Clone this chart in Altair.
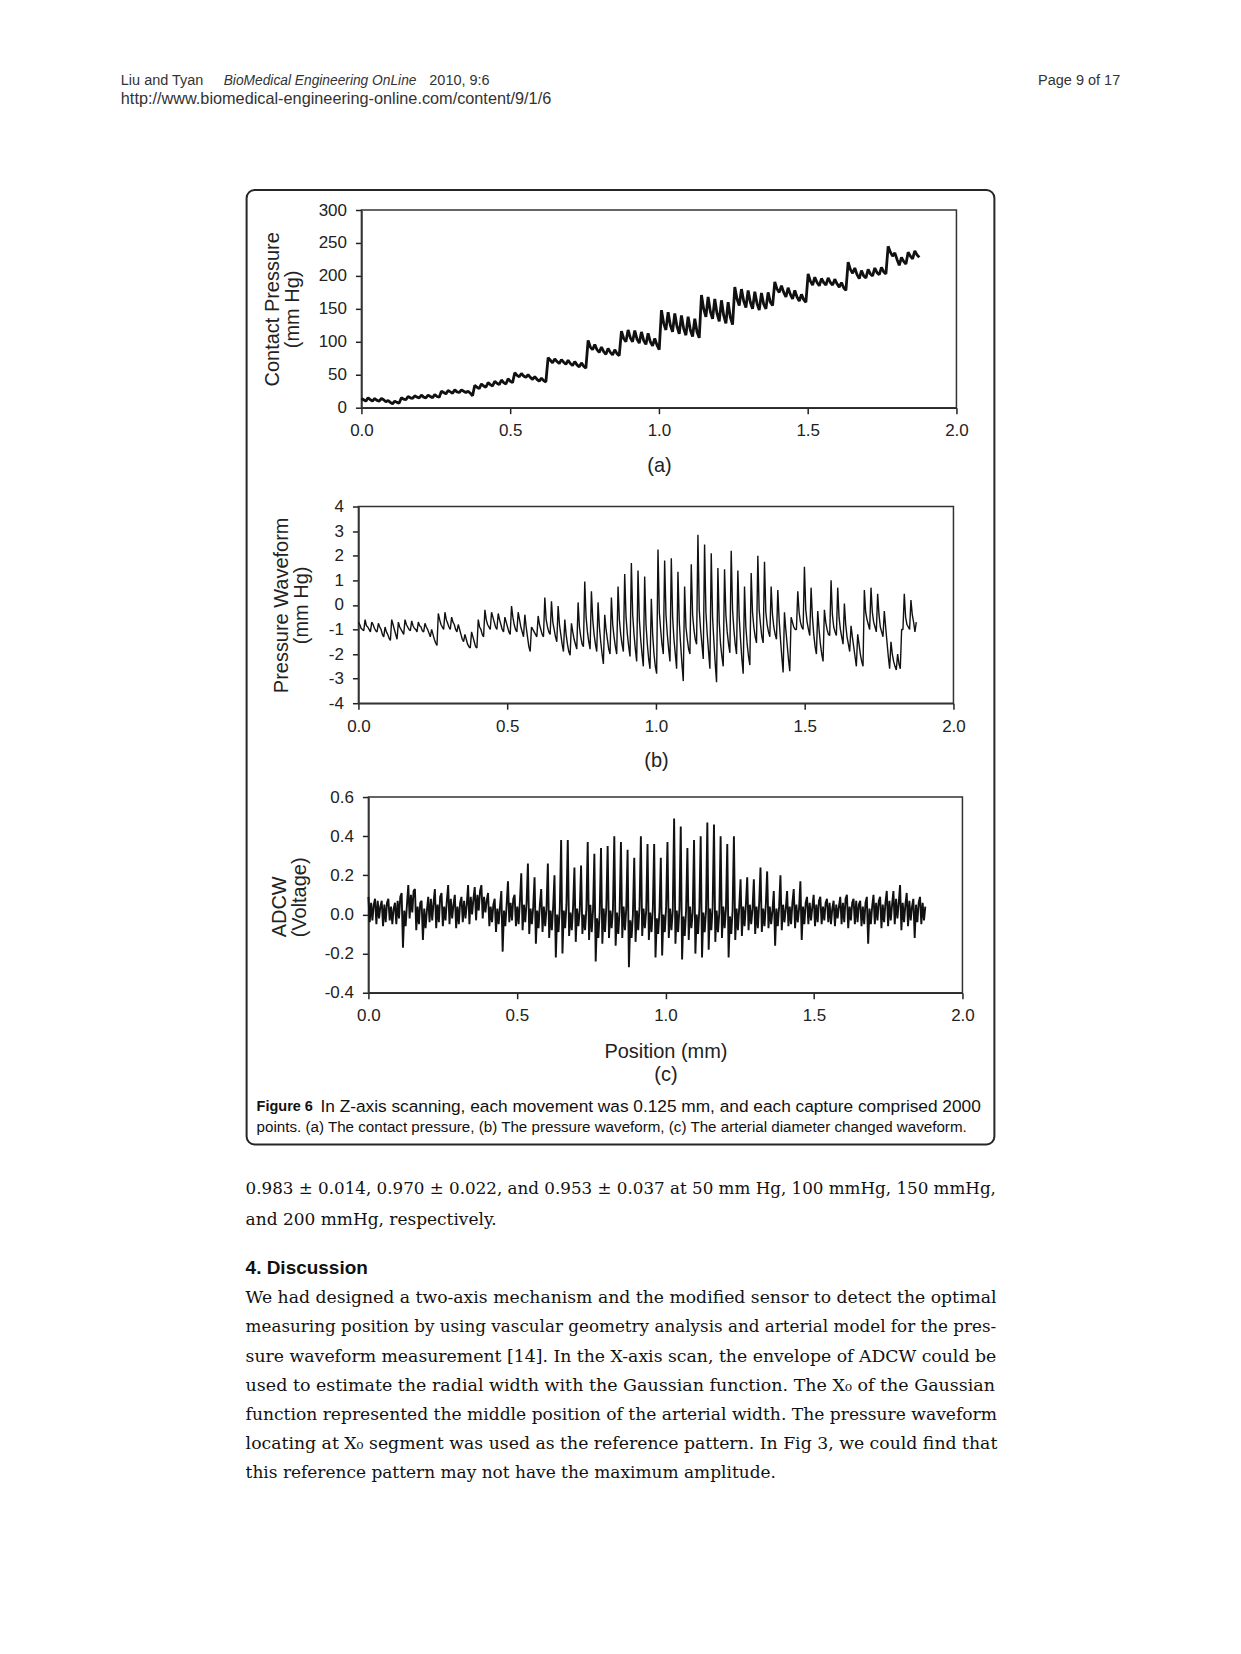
import altair as alt
import pandas as pd
import numpy as np

# ---------------- data ----------------
scan_end = 1.875          # 15 movements x 0.125 mm
x_ticks = [0.0, 0.5, 1.0, 1.5, 2.0]
a_yticks = [0, 50, 100, 150, 200, 250, 300]
b_yticks = [-4, -3, -2, -1, 0, 1, 2, 3, 4]
c_yticks = [-0.4, -0.2, 0.0, 0.2, 0.4, 0.6]

# (a) contact pressure, 3 readings per heart beat
a_contact = [
    14, 12, 10, 15, 12, 10, 14, 11, 10, 14, 12, 9, 11, 8, 6, 10, 8, 7,
    15, 13, 12, 17, 15, 14, 18, 16, 15, 19, 16, 15, 19, 17, 15, 20, 17, 16,
    25, 23, 21, 26, 24, 22, 27, 24, 23, 27, 25, 23, 25, 22, 18,
    34, 31, 29, 36, 33, 31, 38, 35, 33, 40, 37, 35, 42, 38, 36, 44, 40, 38,
    53, 49, 47, 52, 48, 46, 50, 46, 43, 47, 43, 40, 45, 41, 39,
    76, 72, 68, 74, 70, 67, 73, 69, 66, 72, 67, 64, 70, 65, 62, 68, 63, 60,
    102, 92, 88, 96, 88, 84, 92, 85, 81, 90, 84, 80, 88, 82, 79,
    116, 105, 100, 118, 106, 100, 117, 104, 98, 115, 102, 96, 113, 100, 94, 105, 95, 88,
    148, 128, 118, 145, 125, 115, 143, 123, 112, 140, 120, 110, 138, 118, 108, 135, 115, 106,
    171, 150, 138, 168, 146, 135, 165, 143, 131, 163, 140, 128, 160, 137, 126,
    183, 165, 155, 180, 162, 152, 178, 160, 150, 176, 158, 148, 174, 157, 150, 175, 160, 155,
    191, 180, 175, 185, 175, 168, 182, 172, 165, 178, 168, 162, 172, 164, 160,
    203, 192, 186, 198, 190, 185, 196, 190, 186, 197, 190, 186, 195, 188, 183, 190, 182, 178,
    221, 210, 204, 212, 202, 196, 208, 200, 197, 210, 203, 200, 212, 205, 202, 213, 206, 203,
    245, 236, 230, 235, 225, 216, 228, 222, 218, 236, 230, 226, 238, 232, 228,
]

# (b) pressure waveform, 5 readings per beat (peak ... trough)
b_wave = [
    -0.7, -0.8, -0.95, -1.0, -1.05, -0.6, -0.85, -0.9, -1.0, -1.1,
    -0.7, -0.8, -0.95, -1.05, -1.1, -0.75, -0.9, -1.0, -1.2, -1.3,
    -0.9, -1.1, -1.2, -1.35, -1.45, -0.6, -0.8, -1.0, -1.2, -1.4,
    -0.7, -0.9, -1.0, -1.1, -1.2, -0.6, -0.8, -0.9, -1.0, -1.05,
    -0.65, -0.85, -0.95, -1.0, -1.1, -0.7, -0.85, -0.9, -1.05, -1.1,
    -0.75, -0.9, -1.0, -1.15, -1.3, -1.0, -1.2, -1.4, -1.55, -1.65,
    -0.35, -0.6, -0.8, -0.9, -1.0, -0.3, -0.6, -0.75, -0.9, -1.0,
    -0.5, -0.7, -0.8, -1.0, -1.1, -0.8, -1.0, -1.2, -1.4, -1.5,
    -1.2, -1.4, -1.6, -1.7, -1.75, -1.1, -1.3, -1.5, -1.7, -1.75,
    -0.6, -0.9, -1.0, -1.2, -1.3, -0.2, -0.6, -0.8, -0.9, -1.0,
    -0.3, -0.5, -0.7, -0.9, -1.0, -0.35, -0.6, -0.8, -1.0, -1.1,
    -0.5, -0.7, -0.9, -1.1, -1.2, -0.05, -0.5, -0.8, -1.0, -1.1,
    -0.3, -0.6, -0.9, -1.1, -1.3, -0.4, -0.9, -1.3, -1.7, -1.9,
    -0.9, -1.0, -1.1, -1.2, -1.3, -0.45, -0.8, -1.0, -1.2, -1.3,
    0.3, -0.6, -0.9, -1.1, -1.2, 0.15, -0.7, -1.0, -1.3, -1.5,
    -0.05, -0.8, -1.2, -1.6, -1.9, -0.6, -1.2, -1.6, -1.9, -2.05,
    -0.75, -1.1, -1.4, -1.6, -1.8, 0.1, -0.9, -1.3, -1.6, -1.7,
    0.95, -0.5, -1.1, -1.5, -1.8, 0.55, -0.6, -1.2, -1.6, -1.9,
    0.1, -0.9, -1.5, -2.0, -2.4, -0.4, -1.0, -1.4, -1.8, -2.0,
    0.3, -0.8, -1.3, -1.7, -2.0, 0.75, -0.6, -1.2, -1.6, -1.9,
    1.25, -0.5, -1.2, -1.7, -2.1, 1.7, -0.4, -1.2, -1.8, -2.3,
    1.4, -0.6, -1.4, -2.0, -2.5, 1.15, -0.8, -1.6, -2.2, -2.6,
    0.25, -1.2, -2.0, -2.5, -2.8, 2.25, -0.3, -1.0, -1.6, -2.0,
    1.8, -0.4, -1.2, -1.8, -2.3, 1.9, -0.5, -1.4, -2.0, -2.6,
    1.35, -0.7, -1.6, -2.4, -3.1, 0.75, -0.9, -1.4, -1.8, -2.0,
    1.65, -0.4, -1.0, -1.4, -1.6, 2.85, -0.2, -1.0, -1.6, -2.2,
    2.45, -0.3, -1.2, -1.9, -2.6, 2.1, -0.5, -1.5, -2.4, -3.15,
    1.5, -0.7, -1.6, -2.1, -2.5, 1.45, -0.4, -1.1, -1.6, -1.95,
    2.2, -0.2, -1.0, -1.6, -2.0, 1.4, -0.5, -1.4, -2.2, -2.8,
    0.75, -0.9, -1.6, -2.1, -2.45, 1.3, -0.3, -0.9, -1.3, -1.55,
    2.0, -0.2, -0.8, -1.3, -1.55, 1.75, -0.3, -0.8, -1.1, -1.3,
    0.75, -0.4, -0.9, -1.2, -1.4, 0.6, -0.6, -1.4, -2.1, -2.75,
    -0.3, -1.0, -1.6, -2.2, -2.7, -0.5, -0.7, -0.9, -1.0, -1.0,
    0.55, -0.3, -0.7, -0.9, -1.0, 1.55, -0.2, -0.7, -1.0, -1.25,
    0.7, -0.5, -1.2, -1.7, -2.0, -0.25, -1.0, -1.6, -2.0, -2.3,
    -0.2, -0.7, -1.0, -1.2, -1.25, 1.0, -0.4, -0.9, -1.1, -1.25,
    0.7, -0.5, -1.0, -1.3, -1.6, 0.05, -0.8, -1.3, -1.6, -1.9,
    -0.85, -1.3, -1.7, -2.1, -2.5, -1.2, -1.6, -2.0, -2.3, -2.5,
    0.6, -0.3, -0.6, -0.8, -1.0, 0.7, -0.3, -0.7, -0.9, -1.1,
    0.45, -0.4, -0.9, -1.1, -1.3, -0.25, -0.9, -1.5, -2.1, -2.6,
    -1.5, -2.0, -2.3, -2.5, -2.65, -2.0, -2.4, -2.6, -1.0, -1.0,
    0.45, -0.5, -0.8, -0.9, -1.0, 0.2, -0.4, -0.7, -1.1, -0.7,
]

# (c) ADCW, 5 readings per beat (spike, dip, noise)
c_adcw = [
    0.09, -0.04, 0.06, -0.03, 0.05, 0.08, -0.05, 0.07, -0.02, 0.04,
    0.07, -0.06, 0.05, -0.04, 0.06, 0.08, -0.03, 0.04, -0.05, 0.03,
    0.06, -0.05, 0.07, -0.02, 0.09, 0.11, -0.17, 0.02, -0.06, 0.05,
    0.15, -0.02, 0.10, 0.01, 0.12, 0.13, -0.08, 0.04, -0.05, 0.06,
    0.07, -0.13, 0.03, -0.07, 0.02, 0.09, -0.04, 0.08, -0.03, 0.06,
    0.13, -0.07, 0.05, -0.04, 0.09, 0.11, -0.06, 0.04, -0.03, 0.07,
    0.15, -0.05, 0.08, -0.02, 0.05, 0.10, -0.07, 0.04, -0.05, 0.06,
    0.09, -0.04, 0.07, -0.02, 0.05, 0.15, -0.05, 0.09, 0.00, 0.08,
    0.14, -0.03, 0.10, 0.02, 0.12, 0.15, -0.02, 0.09, 0.01, 0.07,
    0.11, -0.06, 0.04, -0.04, 0.05, 0.08, -0.09, 0.03, -0.05, 0.04,
    0.12, -0.19, 0.02, -0.06, 0.05, 0.17, -0.04, 0.06, -0.03, 0.08,
    0.10, -0.06, 0.04, -0.05, 0.07, 0.21, -0.08, 0.05, -0.04, 0.06,
    0.26, -0.10, 0.03, -0.05, 0.04, 0.19, -0.15, 0.02, -0.07, 0.05,
    0.13, -0.09, 0.04, -0.06, 0.03, 0.26, -0.12, 0.02, -0.08, 0.04,
    0.20, -0.22, 0.00, -0.09, 0.03, 0.38, -0.20, 0.02, -0.07, 0.05,
    0.38, -0.11, 0.01, -0.08, 0.04, 0.24, -0.14, 0.03, -0.06, 0.02,
    0.25, -0.10, 0.00, -0.08, 0.03, 0.37, -0.13, 0.05, -0.09, 0.02,
    0.31, -0.24, -0.02, -0.12, 0.01, 0.34, -0.15, 0.03, -0.09, 0.04,
    0.35, -0.12, 0.02, -0.07, 0.03, 0.40, -0.16, 0.01, -0.10, 0.02,
    0.37, -0.12, 0.04, -0.08, 0.03, 0.33, -0.27, -0.03, -0.12, 0.00,
    0.29, -0.14, 0.02, -0.08, 0.04, 0.40, -0.11, 0.03, -0.07, 0.02,
    0.36, -0.13, 0.01, -0.09, 0.03, 0.36, -0.22, -0.02, -0.10, 0.02,
    0.29, -0.21, 0.00, -0.09, 0.04, 0.37, -0.12, 0.03, -0.08, 0.02,
    0.49, -0.15, 0.02, -0.09, 0.03, 0.45, -0.23, -0.01, -0.11, 0.02,
    0.34, -0.13, 0.04, -0.07, 0.01, 0.38, -0.20, 0.00, -0.10, 0.03,
    0.40, -0.22, 0.01, -0.09, 0.02, 0.47, -0.18, 0.03, -0.08, 0.04,
    0.46, -0.14, 0.02, -0.09, 0.01, 0.40, -0.12, 0.04, -0.07, 0.03,
    0.36, -0.22, -0.01, -0.10, 0.02, 0.40, -0.13, 0.03, -0.08, 0.04,
    0.18, -0.11, 0.04, -0.06, 0.05, 0.19, -0.08, 0.05, -0.05, 0.03,
    0.18, -0.10, 0.04, -0.07, 0.06, 0.24, -0.09, 0.03, -0.06, 0.05,
    0.22, -0.07, 0.04, -0.05, 0.02, 0.12, -0.16, 0.03, -0.06, 0.04,
    0.20, -0.08, 0.05, -0.04, 0.03, 0.12, -0.06, 0.04, -0.05, 0.06,
    0.13, -0.07, 0.05, -0.04, 0.03, 0.17, -0.13, 0.04, -0.05, 0.06,
    0.09, -0.05, 0.06, -0.03, 0.04, 0.10, -0.06, 0.05, -0.04, 0.07,
    0.09, -0.05, 0.04, -0.03, 0.06, 0.08, -0.04, 0.06, -0.05, 0.03,
    0.07, -0.06, 0.05, -0.02, 0.04, 0.09, -0.05, 0.06, -0.04, 0.08,
    0.10, -0.07, 0.04, -0.03, 0.06, 0.08, -0.05, 0.07, -0.04, 0.05,
    0.07, -0.06, 0.04, -0.05, 0.06, 0.09, -0.15, 0.03, -0.05, 0.04,
    0.10, -0.05, 0.06, -0.03, 0.07, 0.09, -0.07, 0.05, -0.04, 0.06,
    0.12, -0.06, 0.07, -0.03, 0.05, 0.12, -0.05, 0.08, -0.02, 0.06,
    0.15, -0.08, 0.06, -0.04, 0.05, 0.11, -0.06, 0.07, -0.03, 0.04,
    0.08, -0.12, 0.05, -0.04, 0.06, 0.09, -0.05, 0.06, -0.03, 0.04,
]

# ---------------- page text ----------------
header_parts = ["Liu and Tyan", "BioMedical Engineering OnLine", "2010, 9:6"]
header_url = "http://www.biomedical-engineering-online.com/content/9/1/6"
header_page = "Page 9 of 17"
caption_label = "Figure 6"
caption_lines = [
    "In Z-axis scanning, each movement was 0.125 mm, and each capture comprised 2000",
    "points. (a) The contact pressure, (b) The pressure waveform, (c) The arterial diameter changed waveform.",
]
body_top = [
    "0.983 \u00b1 0.014, 0.970 \u00b1 0.022, and 0.953 \u00b1 0.037 at 50 mm Hg, 100 mmHg, 150 mmHg,",
    "and 200 mmHg, respectively.",
]
heading = "4. Discussion"
body_main = [
    "We had designed a two-axis mechanism and the modified sensor to detect the optimal",
    "measuring position by using vascular geometry analysis and arterial model for the pres-",
    "sure waveform measurement [14]. In the X-axis scan, the envelope of ADCW could be",
    "used to estimate the radial width with the Gaussian function. The X\u2080 of the Gaussian",
    "function represented the middle position of the arterial width. The pressure waveform",
    "locating at X\u2080 segment was used as the reference pattern. In Fig 3, we could find that",
    "this reference pattern may not have the maximum amplitude.",
]

# ---------------- layout helpers ----------------
X0, Y0 = 358, 8           # page position of the column origin
ONE = pd.DataFrame({"k": [0]})
SANS = "Liberation Sans"
SERIF = "DejaVu Serif"


def txt(s, px, py, size, font=SANS, weight="normal", style="normal", align="left", color="#222"):
    return alt.Chart(pd.DataFrame({"t": [s]})).mark_text(
        align=align, baseline="middle", font=font, fontSize=size,
        fontWeight=weight, fontStyle=style, color=color,
    ).encode(x=alt.value(px - X0), y=alt.value(py - Y0), text="t:N")


page = alt.Chart(ONE).mark_rect(color="white").encode(
    x=alt.value(8 - X0), x2=alt.value(1233 - X0), y=alt.value(0), y2=alt.value(1638))
box = alt.Chart(ONE).mark_rect(fillOpacity=0, stroke="#262626", strokeWidth=2, cornerRadius=8).encode(
    x=alt.value(246 - X0), x2=alt.value(995 - X0), y=alt.value(188 - Y0), y2=alt.value(1144 - Y0))

texts = [
    txt(header_parts[0], 120, 79, 14.5, color="#333"),
    txt(header_parts[1], 223, 79, 13.8, style="italic", color="#333"),
    txt(header_parts[2], 429, 79, 14.5, color="#333"),
    txt(header_url, 120, 97, 16.3, color="#333"),
    txt(header_page, 1121, 79, 14.5, align="right", color="#333"),
    txt(caption_label, 256, 1106, 14.5, weight="bold", color="#111"),
    txt(caption_lines[0], 320, 1106, 17.3, color="#111"),
    txt(caption_lines[1], 256, 1126, 15.2, color="#111"),
    txt(body_top[0], 245, 1189, 16.75, font=SERIF, color="#111"),
    txt(body_top[1], 245, 1220, 17, font=SERIF, color="#111"),
    txt(heading, 245, 1268, 19, weight="bold", color="#111"),
]
body_y = [1298, 1327, 1357, 1386, 1415, 1444, 1473]
body_size = [17.25, 16.8, 17.3, 17.5, 17.15, 17.3, 17]   # fills the justified measure
for line, py, fs in zip(body_main, body_y, body_size):
    texts.append(txt(line, 245, py, fs, font=SERIF, color="#111"))

header_chart = alt.layer(page, box, *texts).properties(width=600, height=200)


def panel(vals, ydom, yticks, yfmt, ytitle, ytitle_x, ytitle_y, ytitle_align,
          xtitle, xtitle_y, xtitle_lh, left, width, height, sw):
    s = left - X0
    df = pd.DataFrame({"x": np.linspace(0, scan_end, len(vals)), "y": vals})
    xaxis = alt.Axis(
        values=x_ticks, format=".1f", grid=False, labelFlush=False,
        tickSize=6, tickWidth=1.5, tickColor="#222", domainColor="#222", domainWidth=1.5,
        labelPadding=9, labelFont=SANS, labelFontSize=17, labelColor="#222",
        title=xtitle, titleFont=SANS, titleFontSize=20, titleFontWeight="normal",
        titleColor="#222", titleX=s + width / 2, titleY=xtitle_y, titleAngle=0,
        titleAlign="center", titleBaseline="alphabetic", titleLineHeight=xtitle_lh)
    yaxis = alt.Axis(
        values=yticks, format=yfmt, labelExpr="replace(datum.label, '\u2212', '-')",
        grid=False, labelFlush=False, offset=-s,
        tickSize=6, tickWidth=1.5, tickColor="#222", domainColor="#222", domainWidth=1.5,
        labelPadding=9, labelFont=SANS, labelFontSize=17, labelColor="#222",
        title=ytitle, titleFont=SANS, titleFontSize=20, titleFontWeight="normal",
        titleColor="#222", titleX=ytitle_x, titleY=ytitle_y, titleAngle=270,
        titleAlign=ytitle_align, titleBaseline="alphabetic", titleLineHeight=20)
    xscale = alt.Scale(domain=[0, 2], range=[s, s + width], nice=False, zero=False)
    yscale = alt.Scale(domain=ydom, nice=False, zero=False)
    line = alt.Chart(df).mark_line(color="#111", strokeWidth=sw, strokeJoin="bevel").encode(
        x=alt.X("x:Q", scale=xscale, axis=xaxis),
        y=alt.Y("y:Q", scale=yscale, axis=yaxis),
    )
    frame = alt.Chart(ONE).mark_rect(fillOpacity=0, stroke="#333", strokeWidth=1.5).encode(
        x=alt.X(datum=0, scale=xscale, axis=xaxis), x2=alt.X2(datum=2),
        y=alt.Y(datum=ydom[0], scale=yscale, axis=yaxis), y2=alt.Y2(datum=ydom[1]),
    )
    return alt.layer(frame, line).properties(width=s + width, height=height)


def spacer(h):
    return alt.Chart(ONE).mark_point(opacity=0).encode(
        x=alt.value(0), y=alt.value(0)).properties(width=1, height=h)


pa = panel(a_contact, [0, 300], a_yticks, "d", ["Contact Pressure", "(mm Hg)"], -83, 99, "center",
           "(a)", 64, 20, 361, 596, 198, 2.8)
pb = panel(b_wave, [-4, 4], b_yticks, "d", ["Pressure Waveform", "(mm Hg)"], -71, 98.5, "center",
           "(b)", 63, 20, 358, 596, 197, 1.4)
pc = panel(c_adcw, [-0.4, 0.6], c_yticks, ".1f", ["ADCW", "(Voltage)"], -83, 140, "left",
           ["Position (mm)", "(c)"], 65, 23, 368, 595, 196, 1.9)

chart = alt.vconcat(
    header_chart, pa, spacer(99), pb, spacer(94), pc, spacing=0, bounds="flush"
).properties(padding=0, background="white").configure_view(stroke="transparent")

chart.save("out.html", embed_options={"renderer": "svg", "actions": False})
